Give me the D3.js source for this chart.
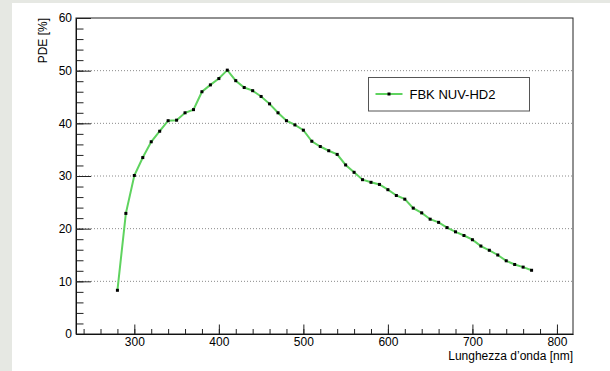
<!DOCTYPE html>
<html>
<head>
    <title>PDE vs wavelength</title>
    <script src="https://d3js.org/d3.v7.min.js"></script>
</head>
<style>
    body { margin: 0; }
    text { font-family: "Liberation Sans", Arial, sans-serif; }
</style>
<body>
    <svg class='chart'></svg>
</body>
<script>
// wavelength [nm]
var wavelength = [280, 290, 300, 310, 320, 330, 340, 350, 360, 370,
                  380, 390, 400, 410, 420, 430, 440, 450, 460, 470,
                  480, 490, 500, 510, 520, 530, 540, 550, 560, 570,
                  580, 590, 600, 610, 620, 630, 640, 650, 660, 670,
                  680, 690, 700, 710, 720, 730, 740, 750, 760, 770]
// PDE [%]
var pde = [8.3, 22.9, 30.1, 33.5, 36.5, 38.5, 40.5, 40.6, 42.0, 42.6,
           46.0, 47.3, 48.5, 50.1, 48.1, 46.8, 46.2, 45.1, 43.7, 42.0,
           40.5, 39.7, 38.7, 36.6, 35.6, 34.8, 34.1, 32.1, 30.7, 29.3,
           28.8, 28.4, 27.4, 26.3, 25.6, 23.9, 23.0, 21.8, 21.2, 20.2,
           19.4, 18.7, 17.9, 16.7, 15.9, 15.0, 13.9, 13.2, 12.7, 12.1]
var xTicks = [300, 400, 500, 600, 700, 800]
var yTicks = [0, 10, 20, 30, 40, 50, 60]
var seriesName = "FBK NUV-HD2"

var W = 610, H = 371
var margin = {top: 18, right: 37, bottom: 37, left: 76}
var width = W - margin.left - margin.right
var height = H - margin.top - margin.bottom

var svg = d3.select(".chart").attr("width", W).attr("height", H)

// background: grey canvas, white pad
svg.append("rect").attr("width", W).attr("height", H).attr("fill", "#e6e8e3")
svg.append("rect").attr("x", 12).attr("y", 3).attr("width", W - 12).attr("height", H - 3).attr("fill", "#fff")

var chart = svg.append("g")
    .attr("transform", "translate(" + margin.left + "," + margin.top + ")")

var x = d3.scaleLinear().domain([231, 819]).range([0, width])
var y = d3.scaleLinear().domain([0, 60]).range([height, 0])

// horizontal dotted grid
chart.append("g").selectAll("line")
    .data(yTicks.filter(function(d){ return d > 0 && d < 60 }))
    .enter().append("line")
    .attr("x1", 0).attr("x2", width)
    .attr("y1", function(d){ return y(d) }).attr("y2", function(d){ return y(d) })
    .attr("stroke", "#8a8a8a").attr("stroke-width", 1)
    .attr("stroke-dasharray", "1,2")

// minor ticks
chart.append("g")
    .call(d3.axisLeft(y).tickValues(d3.range(0, 61, 2)).tickSize(-7.5).tickFormat(""))
    .call(function(g){ g.select(".domain").remove() })
chart.append("g")
    .attr("transform", "translate(0," + height + ")")
    .call(d3.axisBottom(x).tickValues(d3.range(240, 820, 20)).tickSize(-5).tickFormat(""))
    .call(function(g){ g.select(".domain").remove() })

// major ticks + labels
var yAxis = chart.append("g")
    .call(d3.axisLeft(y).tickValues(yTicks).tickSize(-15).tickPadding(4).tickSizeOuter(0))
var xAxis = chart.append("g")
    .attr("transform", "translate(0," + height + ")")
    .call(d3.axisBottom(x).tickValues(xTicks).tickSize(-9.5).tickPadding(3).tickSizeOuter(0))

chart.selectAll(".tick line").attr("stroke", "#222")
chart.selectAll(".tick text").attr("font-size", 12).attr("fill", "#000")
    .style("font-family", "'Liberation Sans', Arial, sans-serif")

// frame
chart.append("rect")
    .attr("width", width).attr("height", height)
    .attr("fill", "none").attr("stroke", "#222").attr("stroke-width", 1)

// series
var points = wavelength.map(function(d, i){ return [d, pde[i]] })
chart.append("path")
    .datum(points)
    .attr("fill", "none")
    .attr("stroke", "#5fd35f")
    .attr("stroke-width", 2)
    .attr("d", d3.line().x(function(d){ return x(d[0]) }).y(function(d){ return y(d[1]) }))
chart.append("g").selectAll("rect")
    .data(points)
    .enter().append("rect")
    .attr("x", function(d){ return x(d[0]) - 1.5 })
    .attr("y", function(d){ return y(d[1]) - 1.5 })
    .attr("width", 3).attr("height", 3)
    .attr("fill", "#000")

// axis titles
chart.append("text")
    .attr("transform", "translate(-29,0) rotate(-90)")
    .attr("text-anchor", "end")
    .attr("font-size", 12)
    .text("PDE [%]")
chart.append("text")
    .attr("x", width).attr("y", height + 26)
    .attr("text-anchor", "end")
    .attr("font-size", 12)
    .text("Lunghezza d’onda [nm]")

// legend
var legend = svg.append("g").attr("transform", "translate(368.5,77.5)")
legend.append("rect")
    .attr("width", 161).attr("height", 33.5)
    .attr("fill", "#fff").attr("stroke", "#555").attr("stroke-width", 1)
legend.append("line")
    .attr("x1", 7).attr("x2", 34).attr("y1", 16.5).attr("y2", 16.5)
    .attr("stroke", "#5fd35f").attr("stroke-width", 2)
legend.append("rect")
    .attr("x", 19).attr("y", 15).attr("width", 3).attr("height", 3).attr("fill", "#000")
legend.append("text")
    .attr("x", 41).attr("y", 16.5).attr("dy", "0.35em")
    .attr("font-size", 13)
    .text(seriesName)
</script>
</html>
